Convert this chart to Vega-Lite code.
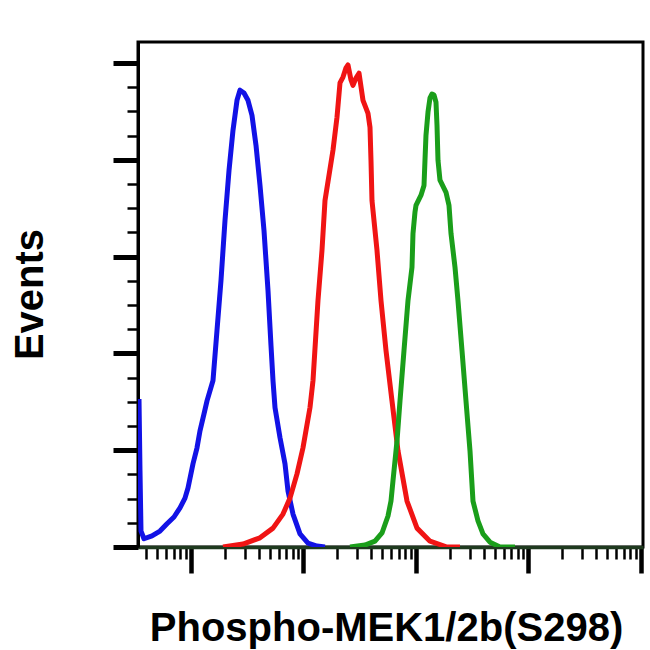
{
  "$schema": "https://vega.github.io/schema/vega-lite/v6.json",
  "autosize": {"type": "none"},
  "width": 505,
  "height": 505,
  "padding": {"left": 138, "top": 42, "right": 7, "bottom": 103},
  "background": "white",
  "config": {
    "view": {"stroke": "black", "strokeWidth": 3},
    "font": "Liberation Sans"
  },
  "data": {
    "values": [
      {"s": "blue", "x": 3.45, "y": 30.6},
      {"s": "blue", "x": 3.521, "y": 15.7},
      {"s": "blue", "x": 3.594, "y": 3.3},
      {"s": "blue", "x": 3.822, "y": 1.7},
      {"s": "blue", "x": 4.501, "y": 2.3},
      {"s": "blue", "x": 5.302, "y": 3.3},
      {"s": "blue", "x": 6.118, "y": 4.8},
      {"s": "blue", "x": 7.062, "y": 6.2},
      {"s": "blue", "x": 7.984, "y": 8.1},
      {"s": "blue", "x": 8.843, "y": 10.1},
      {"s": "blue", "x": 9.404, "y": 12.2},
      {"s": "blue", "x": 10.42, "y": 17.2},
      {"s": "blue", "x": 11.31, "y": 20.5},
      {"s": "blue", "x": 12.02, "y": 24.0},
      {"s": "blue", "x": 13.05, "y": 27.5},
      {"s": "blue", "x": 13.88, "y": 30.2},
      {"s": "blue", "x": 15.69, "y": 34.4},
      {"s": "blue", "x": 17.02, "y": 44.7},
      {"s": "blue", "x": 18.48, "y": 55.1},
      {"s": "blue", "x": 20.06, "y": 67.5},
      {"s": "blue", "x": 21.77, "y": 77.8},
      {"s": "blue", "x": 23.62, "y": 86.1},
      {"s": "blue", "x": 25.64, "y": 92.3},
      {"s": "blue", "x": 27.26, "y": 94.4},
      {"s": "blue", "x": 29.59, "y": 93.8},
      {"s": "blue", "x": 32.11, "y": 92.3},
      {"s": "blue", "x": 34.85, "y": 89.2},
      {"s": "blue", "x": 37.83, "y": 83.0},
      {"s": "blue", "x": 41.06, "y": 74.7},
      {"s": "blue", "x": 44.56, "y": 65.4},
      {"s": "blue", "x": 48.36, "y": 53.0},
      {"s": "blue", "x": 51.42, "y": 41.6},
      {"s": "blue", "x": 53.57, "y": 34.4},
      {"s": "blue", "x": 55.81, "y": 28.8},
      {"s": "blue", "x": 61.82, "y": 22.6},
      {"s": "blue", "x": 68.47, "y": 17.2},
      {"s": "blue", "x": 72.81, "y": 11.6},
      {"s": "blue", "x": 80.66, "y": 6.8},
      {"s": "blue", "x": 93.09, "y": 2.7},
      {"s": "blue", "x": 109.6, "y": 0.8},
      {"s": "blue", "x": 131.8, "y": 0.2},
      {"s": "blue", "x": 155.3, "y": 0},
      {"s": "red", "x": 19.25, "y": 0},
      {"s": "red", "x": 28.99, "y": 0.6},
      {"s": "red", "x": 41.06, "y": 1.9},
      {"s": "red", "x": 53.57, "y": 3.9},
      {"s": "red", "x": 65.72, "y": 6.8},
      {"s": "red", "x": 75.86, "y": 10.1},
      {"s": "red", "x": 87.55, "y": 15.1},
      {"s": "red", "x": 98.98, "y": 20.5},
      {"s": "red", "x": 114.2, "y": 28.8},
      {"s": "red", "x": 121.5, "y": 34.4},
      {"s": "red", "x": 134.5, "y": 50.9},
      {"s": "red", "x": 146.0, "y": 61.3},
      {"s": "red", "x": 155.3, "y": 71.6},
      {"s": "red", "x": 182.9, "y": 82.0},
      {"s": "red", "x": 198.5, "y": 88.8},
      {"s": "red", "x": 211.1, "y": 95.9},
      {"s": "red", "x": 224.5, "y": 97.1},
      {"s": "red", "x": 238.7, "y": 99.0},
      {"s": "red", "x": 248.7, "y": 99.6},
      {"s": "red", "x": 264.4, "y": 96.5},
      {"s": "red", "x": 275.4, "y": 95.4},
      {"s": "red", "x": 292.9, "y": 96.9},
      {"s": "red", "x": 311.5, "y": 97.9},
      {"s": "red", "x": 338.0, "y": 92.3},
      {"s": "red", "x": 359.4, "y": 90.7},
      {"s": "red", "x": 374.4, "y": 89.6},
      {"s": "red", "x": 390.1, "y": 86.7},
      {"s": "red", "x": 398.1, "y": 79.9},
      {"s": "red", "x": 406.3, "y": 71.6},
      {"s": "red", "x": 450.1, "y": 61.3},
      {"s": "red", "x": 488.6, "y": 50.9},
      {"s": "red", "x": 541.2, "y": 40.6},
      {"s": "red", "x": 611.8, "y": 30.2},
      {"s": "red", "x": 691.8, "y": 19.9},
      {"s": "red", "x": 831.8, "y": 9.5},
      {"s": "red", "x": 1021, "y": 3.9},
      {"s": "red", "x": 1332, "y": 1.2},
      {"s": "red", "x": 1886, "y": 0},
      {"s": "red", "x": 2461, "y": 0},
      {"s": "green", "x": 259.1, "y": 0},
      {"s": "green", "x": 352.1, "y": 0.4},
      {"s": "green", "x": 432.1, "y": 1.2},
      {"s": "green", "x": 498.7, "y": 2.9},
      {"s": "green", "x": 563.8, "y": 6.4},
      {"s": "green", "x": 599.5, "y": 9.5},
      {"s": "green", "x": 624.5, "y": 13.7},
      {"s": "green", "x": 677.9, "y": 21.9},
      {"s": "green", "x": 720.8, "y": 30.2},
      {"s": "green", "x": 782.3, "y": 40.6},
      {"s": "green", "x": 848.9, "y": 50.9},
      {"s": "green", "x": 921.3, "y": 57.8},
      {"s": "green", "x": 940.4, "y": 64.8},
      {"s": "green", "x": 979.7, "y": 69.2},
      {"s": "green", "x": 1000, "y": 70.6},
      {"s": "green", "x": 1108, "y": 72.7},
      {"s": "green", "x": 1178, "y": 74.7},
      {"s": "green", "x": 1202, "y": 79.9},
      {"s": "green", "x": 1227, "y": 85.1},
      {"s": "green", "x": 1279, "y": 89.9},
      {"s": "green", "x": 1332, "y": 92.8},
      {"s": "green", "x": 1388, "y": 93.6},
      {"s": "green", "x": 1445, "y": 93.4},
      {"s": "green", "x": 1506, "y": 91.9},
      {"s": "green", "x": 1537, "y": 87.2},
      {"s": "green", "x": 1569, "y": 79.9},
      {"s": "green", "x": 1634, "y": 75.8},
      {"s": "green", "x": 1848, "y": 73.3},
      {"s": "green", "x": 1965, "y": 70.6},
      {"s": "green", "x": 2047, "y": 64.8},
      {"s": "green", "x": 2222, "y": 57.8},
      {"s": "green", "x": 2362, "y": 50.9},
      {"s": "green", "x": 2564, "y": 40.6},
      {"s": "green", "x": 2782, "y": 30.2},
      {"s": "green", "x": 3020, "y": 19.9},
      {"s": "green", "x": 3211, "y": 9.5},
      {"s": "green", "x": 3557, "y": 5.4},
      {"s": "green", "x": 3941, "y": 2.7},
      {"s": "green", "x": 4548, "y": 1.0},
      {"s": "green", "x": 5581, "y": 0},
      {"s": "green", "x": 7586, "y": 0}
    ]
  },
  "mark": {"type": "line", "strokeWidth": 5, "clip": true, "strokeJoin": "round"},
  "encoding": {
    "x": {
      "field": "x",
      "type": "quantitative",
      "scale": {"type": "log", "domain": [3.38, 104200], "nice": false},
      "axis": {
        "title": "Phospho-MEK1/2b(S298)",
        "titleFont": "Liberation Sans",
        "titleFontSize": 40,
        "titleFontWeight": "bold",
        "titleColor": "black",
        "titleX": 248,
        "titleY": 93,
        "titleAlign": "center",
        "titleBaseline": "alphabetic",
        "labels": false,
        "grid": false,
        "domainColor": "#1f3a1f",
        "domainWidth": 3.5,
        "tickColor": "black",
        "values": [4, 5, 6, 7, 8, 9, 10, 20, 30, 40, 50, 60, 70, 80, 90, 100, 200, 300, 400, 500, 600, 700, 800, 900, 1000, 2000, 3000, 4000, 5000, 6000, 7000, 8000, 9000, 10000, 20000, 30000, 40000, 50000, 60000, 70000, 80000, 90000, 100000],
        "tickSize": {"condition": {"test": "indexof([10,100,1000,10000,100000], datum.value) >= 0", "value": 26}, "value": 12},
        "tickWidth": {"condition": {"test": "indexof([10,100,1000,10000,100000], datum.value) >= 0", "value": 4.5}, "value": 2.5}
      }
    },
    "y": {
      "field": "y",
      "type": "quantitative",
      "scale": {"domain": [0, 104.35], "nice": false},
      "axis": {
        "title": "Events",
        "titleFont": "Liberation Sans",
        "titleFontSize": 40,
        "titleFontWeight": "bold",
        "titleColor": "black",
        "titleAngle": -90,
        "titleX": -96,
        "titleY": 252,
        "titleAlign": "center",
        "titleBaseline": "alphabetic",
        "labels": false,
        "grid": false,
        "domainColor": "black",
        "domainWidth": 3,
        "tickColor": "black",
        "values": [0, 5, 10, 15, 20, 25, 30, 35, 40, 45, 50, 55, 60, 65, 70, 75, 80, 85, 90, 95, 100],
        "tickSize": {"condition": {"test": "datum.value % 20 === 0", "value": 25}, "value": 11},
        "tickWidth": {"condition": {"test": "datum.value % 20 === 0", "value": 5}, "value": 2.5}
      }
    },
    "color": {
      "field": "s",
      "type": "nominal",
      "scale": {"domain": ["blue", "red", "green"], "range": ["#1212e6", "#f01414", "#1a9e1a"]},
      "legend": null
    }
  }
}
